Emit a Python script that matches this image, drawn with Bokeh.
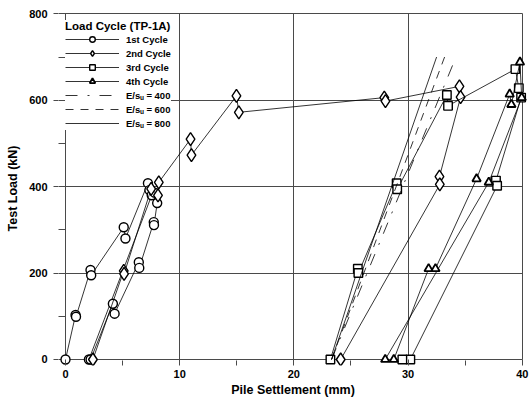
from bokeh.plotting import figure
from bokeh.models import Range1d, FixedTicker, Legend, LegendItem
from bokeh.embed import file_html
from bokeh.resources import INLINE

# ---------------- data ----------------
x_major = [0, 10, 20, 30, 40]
x_minor = [5, 15, 25, 35]
y_major = [0, 200, 400, 600, 800]
y_minor = [100, 300, 500, 700]

# 1st cycle (circles)
c1_x = [0.0, 0.88, 0.92, 2.19, 2.25, 5.10, 5.25, 7.22, 7.35, 7.55, 2.05,
        2.20, 4.15, 4.30, 6.42, 6.46, 7.73, 7.75, 8.03, 7.80]
c1_y = [0, 103, 99, 207, 195, 306, 280, 408, 392, 380, 0,
        0, 129, 106, 225, 212, 318, 311, 362, 386]
# 2nd cycle (diamonds)
c2_x = [2.40, 5.10, 5.13, 7.50, 8.10, 8.17, 10.95, 11.03, 14.97, 15.18,
        27.92, 28.02, 34.50, 34.60, 32.75, 32.78, 24.10]
c2_y = [0, 205, 198, 395, 380, 410, 510, 473, 610, 572,
        606, 598, 632, 607, 423, 405, 0]
# 3rd cycle (squares)
c3_x = [23.2, 25.60, 25.65, 29.00, 29.05, 33.4, 33.5, 39.4, 39.7, 39.9,
        37.7, 37.8, 30.2, 29.5]
c3_y = [0, 210, 200, 408, 394, 612, 587, 672, 628, 606,
        414, 402, 0, 0]
# 4th cycle (triangles)
c4_x = [28.75, 31.8, 32.4, 36.0, 38.9, 39.05, 39.8, 39.95, 37.07, 28.0]
c4_y = [0, 210, 210, 418, 614, 590, 688, 606, 410, 0]

# elastic lines E/su
e_labels = ["E/s\u1d64 = 400", "E/s\u1d64 = 600", "E/s\u1d64 = 800"]
e_x = [[23.3, 34.2], [23.3, 33.2], [23.3, 32.5]]
e_y = [[0, 700], [0, 700], [0, 700]]
e_dash = ["12 10 2 10", "8 7", "solid"]

cycle_labels = ["1st Cycle", "2nd Cycle", "3rd Cycle", "4th Cycle"]
cycle_markers = ["circle", "diamond", "square", "triangle"]
cycle_sizes = [9, 13, 8.5, 8.5]
cycle_lw = [1.4, 1.4, 1.4, 1.8]

# ---------------- figure ----------------
X0, X1 = -0.613, 40.46
Y0, Y1 = -13.9, 805.3

p = figure(width=529, height=403, output_backend="svg", toolbar_location=None,
           x_range=Range1d(X0, X1), y_range=Range1d(Y0, Y1),
           min_border_left=58, min_border_right=2, min_border_top=11,
           min_border_bottom=38)
p.outline_line_color = None
p.background_fill_color = "white"
p.border_fill_color = "white"

FONT = "Liberation Sans"
GRID = "#4a4a4a"

# axes
xa = p.xaxis[0]
xa.ticker = FixedTicker(ticks=x_major, minor_ticks=x_minor)
xa.axis_line_color = None
xa.major_tick_in = 6
xa.major_tick_out = 0
xa.minor_tick_in = 5
xa.minor_tick_out = 0
xa.major_tick_line_color = GRID
xa.minor_tick_line_color = GRID
xa.major_label_standoff = 4
xa.major_label_text_font = FONT
xa.major_label_text_font_style = "bold"
xa.major_label_text_font_size = "11px"
xa.major_label_text_color = "black"
xa.axis_label = "Pile Settlement (mm)"
xa.axis_label_text_font = FONT
xa.axis_label_text_font_style = "bold"
xa.axis_label_text_font_size = "12.5px"
xa.axis_label_standoff = 2
xa.axis_label_text_color = "black"

ya = p.yaxis[0]
ya.ticker = FixedTicker(ticks=y_major, minor_ticks=y_minor)
ya.axis_line_color = None
ya.major_tick_in = 0
ya.major_tick_out = 5
ya.minor_tick_in = 7
ya.minor_tick_out = 0
ya.major_tick_line_color = GRID
ya.minor_tick_line_color = GRID
ya.major_label_standoff = 6
ya.major_label_text_font = FONT
ya.major_label_text_font_style = "bold"
ya.major_label_text_font_size = "11px"
ya.major_label_text_color = "black"
ya.axis_label = "Test Load (kN)"
ya.axis_label_text_font = FONT
ya.axis_label_text_font_style = "bold"
ya.axis_label_text_font_size = "12.5px"
ya.axis_label_standoff = 6
ya.axis_label_text_color = "black"

# grids
p.xgrid.ticker = FixedTicker(ticks=x_major)
p.xgrid.cross_bounds = (0, y_major[-1])
p.xgrid.grid_line_color = GRID
p.xgrid.grid_line_width = 1
p.ygrid.ticker = FixedTicker(ticks=y_major)
p.ygrid.cross_bounds = (X0, x_major[-1])
p.ygrid.grid_line_color = GRID
p.ygrid.grid_line_width = 1

items = []
for lab, mk, sz, lw, xs, ys in zip(cycle_labels, cycle_markers, cycle_sizes, cycle_lw,
                                   [c1_x, c2_x, c3_x, c4_x], [c1_y, c2_y, c3_y, c4_y]):
    lr = p.line(xs, ys, line_color="black", line_width=0.8)
    sr = p.scatter(xs, ys, marker=mk, size=sz, line_color="black",
                   fill_color="white", line_width=lw)
    items.append(LegendItem(label=lab, renderers=[lr, sr]))

for lab, xs, ys, dash in zip(e_labels, e_x, e_y, e_dash):
    er = p.line(xs, ys, line_color="black", line_width=0.8, line_dash=dash)
    items.append(LegendItem(label=lab, renderers=[er]))

legend = Legend(items=items, location=(7, 235))
legend.title = "Load Cycle (TP-1A)"
legend.title_text_font = FONT
legend.title_text_font_style = "bold"
legend.title_text_font_size = "11.5px"
legend.title_text_color = "black"
legend.title_standoff = 0
legend.label_text_font = FONT
legend.label_text_font_style = "bold"
legend.label_text_font_size = "9.5px"
legend.label_text_color = "black"
legend.glyph_width = 54
legend.glyph_height = 14
legend.label_height = 14
legend.label_standoff = 7
legend.spacing = 0
legend.padding = 4
legend.margin = 0
legend.border_line_color = None
legend.background_fill_color = "white"
legend.background_fill_alpha = 1.0
p.add_layout(legend)

open("out.html", "w").write(file_html(p, INLINE))
